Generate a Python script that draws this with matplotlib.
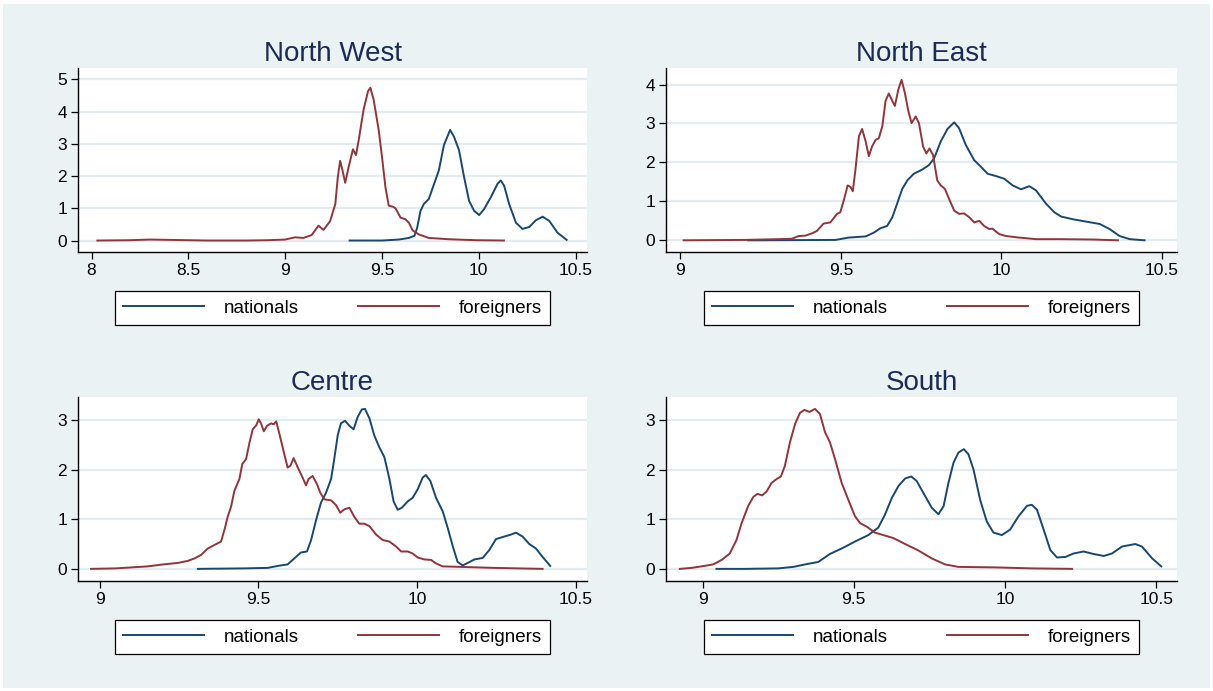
import matplotlib
matplotlib.use("Agg")
import matplotlib.pyplot as plt
from matplotlib.patches import Rectangle

plt.rcParams["font.family"] = ["Liberation Sans", "DejaVu Sans"]

# kernel density estimates (log wage, density)
nw_nat_x = [9.333, 9.5, 9.587, 9.639, 9.668, 9.682, 9.699, 9.716, 9.742, 9.763, 9.794, 9.82, 9.852,
            9.872, 9.898, 9.924, 9.95, 9.976, 10.002, 10.027, 10.062, 10.097, 10.114, 10.131, 10.157,
            10.192, 10.226, 10.261, 10.295, 10.33, 10.364, 10.407, 10.454]
nw_nat_y = [0, 0, 0.03, 0.08, 0.15, 0.4, 0.92, 1.13, 1.29, 1.65, 2.18, 2.96, 3.43,
            3.22, 2.8, 1.97, 1.23, 0.92, 0.79, 0.97, 1.34, 1.76, 1.86, 1.7, 1.13,
            0.55, 0.36, 0.42, 0.63, 0.74, 0.61, 0.24, 0.02]
nw_for_x = [8.03, 8.2, 8.3, 8.4, 8.6, 8.8, 8.913, 9.0, 9.051, 9.094, 9.137, 9.172, 9.198, 9.232, 9.259,
            9.272, 9.284, 9.296, 9.31, 9.328, 9.35, 9.366, 9.38, 9.405, 9.428, 9.44, 9.457, 9.483,
            9.5, 9.518, 9.535, 9.556, 9.57, 9.596, 9.621, 9.639, 9.659, 9.69, 9.742, 9.846, 9.984, 10.13]
nw_for_y = [0, 0.01, 0.03, 0.02, 0, 0, 0.01, 0.03, 0.1, 0.08, 0.17, 0.46, 0.33, 0.6, 1.13,
            1.97, 2.47, 2.18, 1.79, 2.28, 2.83, 2.65, 3.12, 4.06, 4.63, 4.74, 4.37, 3.43,
            2.6, 1.65, 1.08, 1.05, 1.0, 0.71, 0.66, 0.55, 0.31, 0.19, 0.08, 0.04, 0.01, 0]

ne_nat_x = [9.21, 9.243, 9.483, 9.524, 9.577, 9.603, 9.623, 9.644, 9.66, 9.675, 9.691, 9.707, 9.727,
            9.754, 9.774, 9.79, 9.811, 9.832, 9.853, 9.868, 9.889, 9.915, 9.936, 9.957, 9.983,
            10.009, 10.035, 10.061, 10.087, 10.108, 10.139, 10.165, 10.186, 10.223, 10.264,
            10.306, 10.337, 10.368, 10.4, 10.446]
ne_nat_y = [0, 0, 0.01, 0.07, 0.1, 0.2, 0.31, 0.37, 0.59, 0.94, 1.32, 1.54, 1.71,
            1.82, 1.93, 2.1, 2.54, 2.86, 3.03, 2.88, 2.45, 2.06, 1.89, 1.71, 1.65,
            1.58, 1.41, 1.31, 1.39, 1.28, 0.94, 0.72, 0.61, 0.54, 0.48,
            0.42, 0.29, 0.11, 0.03, 0]
ne_for_x = [9.01, 9.2, 9.306, 9.347, 9.368, 9.389, 9.41, 9.425, 9.446, 9.467, 9.488, 9.498, 9.509,
            9.521, 9.53, 9.537, 9.545, 9.556, 9.566, 9.577, 9.587, 9.597, 9.608, 9.618, 9.629,
            9.639, 9.649, 9.66, 9.668, 9.679, 9.689, 9.699, 9.71, 9.72, 9.733, 9.743, 9.756,
            9.766, 9.776, 9.787, 9.8, 9.811, 9.824, 9.837, 9.853, 9.868, 9.884, 9.9, 9.915,
            9.931, 9.946, 9.962, 9.972, 9.993, 10.014, 10.056, 10.108, 10.181, 10.285, 10.363]
ne_for_y = [0, 0.01, 0.03, 0.04, 0.11, 0.12, 0.18, 0.24, 0.43, 0.46, 0.68, 0.72, 1.03,
            1.41, 1.37, 1.26, 1.8, 2.67, 2.86, 2.54, 2.16, 2.41, 2.58, 2.62, 2.93,
            3.58, 3.77, 3.58, 3.45, 3.88, 4.12, 3.79, 3.32, 3.01, 3.18, 3.01, 2.41,
            2.23, 2.36, 2.19, 1.54, 1.41, 1.32, 1.06, 0.76, 0.68, 0.69, 0.59, 0.46,
            0.5, 0.37, 0.29, 0.3, 0.16, 0.11, 0.07, 0.03, 0.03, 0.02, 0]

ce_nat_x = [9.309, 9.456, 9.529, 9.561, 9.592, 9.613, 9.634, 9.653, 9.666, 9.682, 9.697, 9.713, 9.729,
            9.739, 9.75, 9.76, 9.773, 9.787, 9.8, 9.813, 9.826, 9.836, 9.85, 9.865, 9.881, 9.897,
            9.913, 9.926, 9.939, 9.952, 9.971, 9.986, 10.002, 10.018, 10.028, 10.042, 10.06,
            10.081, 10.097, 10.113, 10.128, 10.144, 10.16, 10.181, 10.207, 10.228, 10.249,
            10.275, 10.296, 10.312, 10.333, 10.354, 10.375, 10.396, 10.42]
ce_nat_y = [0, 0.01, 0.02, 0.06, 0.09, 0.21, 0.33, 0.35, 0.58, 0.99, 1.33, 1.53, 1.81,
            2.21, 2.69, 2.93, 2.98, 2.88, 2.81, 3.06, 3.21, 3.22, 3.03, 2.69, 2.45, 2.25,
            1.81, 1.36, 1.19, 1.23, 1.36, 1.43, 1.6, 1.84, 1.89, 1.77, 1.43,
            1.16, 0.82, 0.45, 0.14, 0.07, 0.12, 0.19, 0.22, 0.38, 0.6,
            0.65, 0.69, 0.73, 0.65, 0.5, 0.41, 0.24, 0.06]
ce_for_x = [8.972, 9.05, 9.15, 9.2, 9.246, 9.277, 9.298, 9.319, 9.34, 9.361, 9.382, 9.393, 9.403,
            9.414, 9.424, 9.44, 9.449, 9.461, 9.472, 9.482, 9.493, 9.501, 9.508, 9.517, 9.527,
            9.54, 9.548, 9.556, 9.566, 9.58, 9.592, 9.601, 9.611, 9.624, 9.637, 9.65, 9.658,
            9.671, 9.685, 9.695, 9.708, 9.729, 9.745, 9.758, 9.771, 9.787, 9.802, 9.818, 9.834,
            9.85, 9.871, 9.892, 9.913, 9.934, 9.95, 9.971, 9.986, 10.002, 10.023, 10.044, 10.06,
            10.081, 10.139, 10.244, 10.396]
ce_for_y = [0, 0.01, 0.05, 0.09, 0.12, 0.16, 0.21, 0.28, 0.41, 0.48, 0.55, 0.79, 1.05,
            1.26, 1.57, 1.81, 2.11, 2.21, 2.55, 2.81, 2.89, 3.01, 2.93, 2.77, 2.88,
            2.93, 2.91, 2.97, 2.72, 2.35, 2.04, 2.08, 2.23, 2.04, 1.87, 1.68, 1.81,
            1.87, 1.7, 1.53, 1.4, 1.38, 1.28, 1.13, 1.2, 1.23, 1.05, 0.91, 0.91,
            0.86, 0.69, 0.58, 0.55, 0.45, 0.35, 0.35, 0.31, 0.23, 0.19, 0.18, 0.11,
            0.05, 0.04, 0.02, 0]

so_nat_x = [9.046, 9.14, 9.25, 9.3, 9.339, 9.383, 9.421, 9.46, 9.504, 9.548, 9.581, 9.603, 9.626,
            9.648, 9.67, 9.69, 9.708, 9.73, 9.758, 9.78, 9.797, 9.813, 9.83, 9.846, 9.864, 9.879,
            9.896, 9.918, 9.94, 9.962, 9.99, 10.017, 10.045, 10.073, 10.089, 10.106, 10.128,
            10.15, 10.172, 10.2, 10.227, 10.26, 10.293, 10.327, 10.354, 10.387, 10.431, 10.453,
            10.487, 10.517]
so_nat_y = [0, 0, 0.01, 0.04, 0.09, 0.14, 0.3, 0.41, 0.55, 0.68, 0.83, 1.09, 1.43,
            1.67, 1.82, 1.86, 1.77, 1.53, 1.23, 1.1, 1.26, 1.73, 2.14, 2.34, 2.41, 2.31,
            2.0, 1.39, 0.95, 0.73, 0.68, 0.79, 1.06, 1.27, 1.29, 1.19, 0.79,
            0.38, 0.23, 0.24, 0.31, 0.35, 0.3, 0.26, 0.31, 0.45, 0.5, 0.45,
            0.21, 0.05]
so_for_x = [8.925, 8.963, 8.996, 9.035, 9.063, 9.09, 9.112, 9.129, 9.151, 9.168, 9.181, 9.197, 9.212,
            9.228, 9.245, 9.259, 9.272, 9.289, 9.306, 9.322, 9.337, 9.353, 9.372, 9.388, 9.405,
            9.421, 9.438, 9.46, 9.482, 9.504, 9.521, 9.543, 9.57, 9.598, 9.631, 9.67, 9.714,
            9.758, 9.802, 9.846, 9.968, 10.089, 10.222]
so_for_y = [0, 0.02, 0.05, 0.09, 0.18, 0.31, 0.58, 0.92, 1.27, 1.45, 1.51, 1.48, 1.56,
            1.73, 1.81, 1.86, 2.07, 2.55, 2.92, 3.14, 3.2, 3.16, 3.22, 3.12, 2.75,
            2.55, 2.21, 1.73, 1.39, 1.06, 0.92, 0.85, 0.73, 0.68, 0.62, 0.5, 0.37,
            0.21, 0.09, 0.04, 0.03, 0.01, 0]

titles = ["North West", "North East", "Centre", "South"]
series_labels = ["nationals", "foreigners"]

NAVY = "#1A476F"
MAROON = "#90353B"
BG = "#EAF2F3"
GRID = "#E3ECEE"

W, H = 1213, 691
fig = plt.figure(figsize=(W / 100, H / 100), dpi=100, facecolor="white")
fig.patches.append(Rectangle((3 / W, 3 / H), 1 - 6 / W, 1 - 7 / H,
                             transform=fig.transFigure, facecolor=BG, edgecolor="none", zorder=-10))

# panel: (left, top, right, bottom) in pixels, xlim, ylim, xticks, yticks, data
panels = [
    ((78, 68, 587, 252), (7.93, 10.559), (-0.356, 5.35), [8, 8.5, 9, 9.5, 10, 10.5], range(6),
     (nw_nat_x, nw_nat_y, nw_for_x, nw_for_y)),
    ((666, 68, 1177, 252), (8.955, 10.547), (-0.30, 4.425), [9, 9.5, 10, 10.5], range(5),
     (ne_nat_x, ne_nat_y, ne_for_x, ne_for_y)),
    ((78, 397, 587, 581), (8.931, 10.536), (-0.244, 3.46), [9, 9.5, 10, 10.5], range(4),
     (ce_nat_x, ce_nat_y, ce_for_x, ce_for_y)),
    ((666, 397, 1177, 581), (8.879, 10.569), (-0.244, 3.46), [9, 9.5, 10, 10.5], range(4),
     (so_nat_x, so_nat_y, so_for_x, so_for_y)),
]

for (box, xl, yl, xt, yt, d), title in zip(panels, titles):
    l, t, r, b = box
    ax = fig.add_axes([l / W, 1 - b / H, (r - l) / W, (b - t) / H])
    ax.set_facecolor("white")
    h1, = ax.plot(d[0], d[1], color=NAVY, lw=1.4, label=series_labels[0])
    h2, = ax.plot(d[2], d[3], color=MAROON, lw=1.4, label=series_labels[1])
    ax.set_xlim(*xl); ax.set_ylim(*yl)
    ax.set_xticks(xt); ax.set_xticklabels([f"{v:g}" for v in xt])
    ax.set_yticks(list(yt)); ax.set_yticklabels([str(v) for v in yt])
    ax.grid(True, axis="y", color=GRID, lw=1.6)
    ax.set_axisbelow(True)
    for s in ("top", "right"):
        ax.spines[s].set_visible(False)
    for s in ("left", "bottom"):
        ax.spines[s].set_color("black"); ax.spines[s].set_linewidth(1.0)
    ax.tick_params(labelsize=12.5, length=5, width=0.9, colors="black", pad=3)
    ax.set_title(title, fontsize=20, color="#1C2B55", pad=5)
    leg = ax.legend(handles=[h1, h2], loc="upper center",
                    bbox_to_anchor=((l + r) / 2 / W, 1 - (b + 39) / H),
                    bbox_transform=fig.transFigure, ncol=2, fontsize=13.5,
                    frameon=True, fancybox=False, edgecolor="black", framealpha=1,
                    handlelength=4.3, handletextpad=1.05, columnspacing=3.2,
                    borderpad=0.45, borderaxespad=0)
    leg.get_frame().set_linewidth(0.9)

fig.savefig("out.png", dpi=100, facecolor="white")
